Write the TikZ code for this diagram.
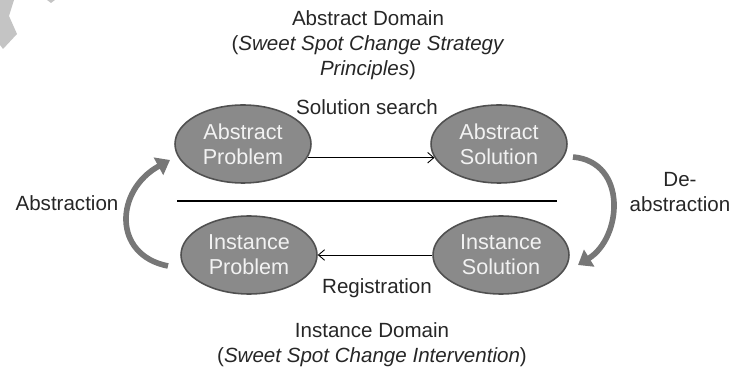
\documentclass[tikz,border=0pt]{standalone}
\usepackage{fontspec}
\setmainfont{Liberation Sans}
\usepackage{tikz}
\usetikzlibrary{arrows.meta,calc,positioning,shapes.geometric}
\definecolor{ovalfill}{HTML}{8A8A8A}
\definecolor{ovaledge}{HTML}{505050}
\definecolor{bandgray}{HTML}{777777}
\definecolor{markgray}{HTML}{C4C4C4}

\begin{document}
\begin{tikzpicture}[x=0.02cm, y=-0.02cm,
    every node/.style={font=\fontsize{11.7}{14.2}\selectfont, text=black!85},
    oval/.style={ellipse, draw=ovaledge, line width=0.9pt, fill=ovalfill,
        minimum width=2.72cm, minimum height=1.56cm, inner sep=0pt,
        align=center, text=white!95!black, font=\fontsize{12.3}{14.2}\selectfont},
    link/.style={line width=0.5pt, -{Straight Barb[length=3.5pt,width=6pt]}},
    band/.style={bandgray, line width=3.2pt, -{Triangle[width=11pt,length=7.5pt]}}]
    \useasboundingbox (0,0) rectangle (732,367);
    % mark in the corner
    \fill[markgray] (0,0) -- (14,0) -- (9,16) -- (17,34) -- (3,49) -- (0,45) -- cycle;
    \fill[markgray] (47,0) -- (55,0) -- (51,3) -- cycle;

    \node[oval] (absprob) at (243,144) {Abstract\\Problem};
    \node[oval] (abssol) at (499,144) {Abstract\\Solution};
    \node[oval] (insprob) at (249,255) {Instance\\Problem};
    \node[oval] (inssol) at (501,255) {Instance\\Solution};

    \draw[link] (absprob.-12) -- (abssol.192);
    \draw[link] (inssol) -- (insprob);

    \coordinate (divL) at (177,201);
    \coordinate (divR) at (557,201);
    \draw[line width=1.6pt] (divL) -- (divR);

    \coordinate (upTail) at (168,266);
    \coordinate (upHead) at (170,160);
    \draw[band] (upTail) .. controls (112,255) and (115,190) .. (upHead);
    \coordinate (downTail) at (573,157);
    \coordinate (downHead) at (578,265);
    \draw[band] (downTail) .. controls (628,162) and (622,238) .. (downHead);

    \node[align=center] (absdom) at (368,45) {Abstract Domain\\(\textit{Sweet Spot Change Strategy}\\\textit{Principles})};
    \node (search) at (367,107) {Solution search};
    \node (abst) at (67,203) {Abstraction};
    \node[align=center] (deabst) at (680,192) {De-\\abstraction};
    \node (regis) at (377,288) {Registration};
    \node[align=center] (insdom) at (372,345) {Instance Domain\\(\textit{Sweet Spot Change Intervention})};
\end{tikzpicture}
\end{document}
